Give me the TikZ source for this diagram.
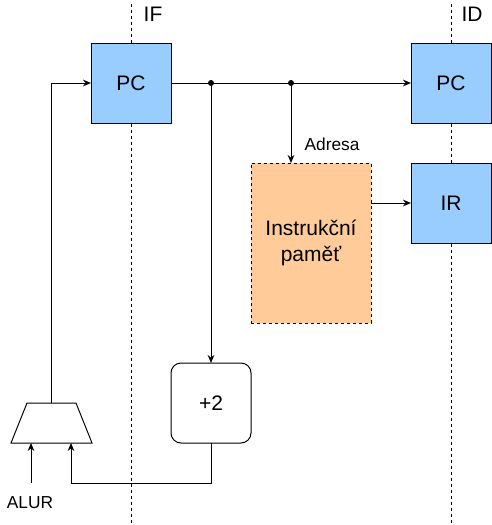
\documentclass[tikz,border=0pt]{standalone}
\usepackage{fontspec}
\setmainfont{Liberation Sans}
\usetikzlibrary{arrows.meta, positioning, calc, backgrounds}
\definecolor{regblue}{HTML}{99CCFF}
\definecolor{memorange}{HTML}{FFCC99}
\newcommand{\bigfont}{\fontsize{15.75pt}{18.9pt}\selectfont}
\newcommand{\smallfont}{\fontsize{13pt}{15.6pt}\selectfont}
\tikzset{
  reg/.style={rectangle, draw=black, fill=regblue, line width=0.75pt,
              minimum width=60pt, minimum height=60pt, inner sep=0pt,
              outer sep=0pt, align=center, font=\bigfont},
  memblock/.style={reg, fill=memorange, dash pattern=on 2.25pt off 2.25pt,
                   minimum width=90pt, minimum height=120pt},
  adder/.style={reg, fill=white, rounded corners=7.5pt},
  alushape/.style={draw=black, fill=white, line width=0.75pt},
  jdot/.style={circle, fill=black, inner sep=0pt, minimum size=4.5pt},
  arrow/.style={-{Stealth[length=6pt, width=5pt]}, line width=0.75pt},
  stage/.style={line width=0.75pt, dash pattern=on 2.25pt off 2.25pt},
  lbl/.style={font=\smallfont},
  stagelbl/.style={font=\bigfont},
}
\begin{document}
\begin{tikzpicture}[x=0.75pt, y=-0.75pt, node distance=30pt]
  \useasboundingbox (0,0) rectangle (492,525);

  %% Registers and memory
  \node[reg] (pcif) at (131,83) {PC};
  \node[reg] (pcid) at (451,83) {PC};
  \node[reg, below=of pcid] (ir) {IR};
  \node[memblock] (mem) at (311,243) {Instrukční\\paměť};
  \node[adder] (plus) at (211,403) {+2};

  %% ALU (trapezoid) with its ports
  \draw[alushape] (11,443) -- (27,403) -- (76,403) -- (92,443) -- cycle;
  \coordinate (aluout) at (51.5,403);
  \coordinate (aluin1) at (31,443);
  \coordinate (aluin2) at (71,443);

  %% Stage labels
  \node[stagelbl] (iflbl) at (153,14) {IF};
  \node[stagelbl] (idlbl) at (472,14) {ID};

  %% Junctions
  \node[jdot] (j1) at (211,83) {};
  \node[jdot] (j2) at (291,83) {};
  \node[lbl, inner ysep=10.5pt] (alur) at (30,503) {ALUR};

  %% Connections
  \draw[arrow] (pcif) -- (pcid);
  \draw[arrow] (j1) -- (plus);
  \draw[arrow] (j2) -- node[lbl, right=6.5pt, pos=0.75]{Adresa} (j2 |- mem.north);
  \draw[arrow] (mem.east |- ir.west) -- (ir);
  \draw[arrow] (plus.south) -- ++(0,40) -| (aluin2);
  \draw[arrow] (aluout) |- (pcif.west);
  \draw[arrow] (alur.north -| aluin1) -- (aluin1);

  %% Stage boundaries
  \begin{scope}[on background layer]
    \draw[stage] (131,4) -- (131,525);
    \draw[stage] (451,4) -- (451,525);
  \end{scope}

\end{tikzpicture}
\end{document}
